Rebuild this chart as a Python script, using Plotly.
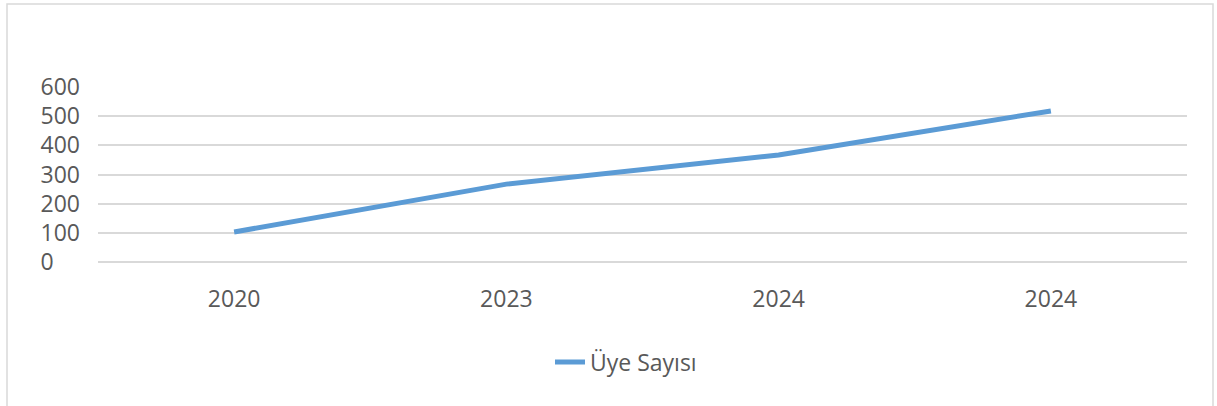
import plotly.graph_objects as go

categories = ["2020", "2023", "2024", "2024"]
uye_sayisi = [103, 267, 367, 518]
y_ticks = [0, 100, 200, 300, 400, 500, 600]

FS = "\u2007"
y_ticktext = [str(v) + FS * (3 - len(str(v))) for v in y_ticks]

x_pos = list(range(len(categories)))

fig = go.Figure()
fig.add_trace(go.Scatter(
    x=x_pos, y=uye_sayisi, mode="lines", name="Üye Sayısı",
    line=dict(color="#5B9BD5", width=5),
))

W, H = 1217, 406
L, R, T, B = 98, 30, 87, 144
pw, ph = W - L - R, H - T - B

def px_x(p):
    return (p - L) / pw

def px_y(p):
    return (H - B - p) / ph

fig.update_layout(
    width=W, height=H,
    margin=dict(l=L, r=R, t=T, b=B),
    paper_bgcolor="white", plot_bgcolor="white",
    font=dict(family="Open Sans", size=23, color="#595959"),
    showlegend=True,
    legend=dict(orientation="h", x=px_x(626), xanchor="center", y=px_y(362), yanchor="middle",
                font=dict(size=23, color="#595959")),
    xaxis=dict(range=[-0.5, len(categories) - 0.5], tickvals=x_pos, ticktext=categories,
               showgrid=False, zeroline=False, showline=False, ticks="",
               ticklabelstandoff=21),
    yaxis=dict(range=[0, 600], tickvals=y_ticks, ticktext=y_ticktext,
               showgrid=True, gridcolor="#D9D9D9", gridwidth=1.5,
               zeroline=True, zerolinecolor="#D9D9D9", zerolinewidth=1.5,
               showline=False, ticks="", ticklabelstandoff=17),
    shapes=[dict(type="rect", xref="paper", yref="paper",
                 x0=px_x(7), x1=px_x(1213), y0=px_y(412), y1=px_y(4),
                 line=dict(color="#D9D9D9", width=1.5), fillcolor="rgba(0,0,0,0)", layer="below")],
)

fig.write_html("out.html", config={"displayModeBar": False},
               post_script="document.body.style.margin='0';document.body.style.overflow='hidden';")
